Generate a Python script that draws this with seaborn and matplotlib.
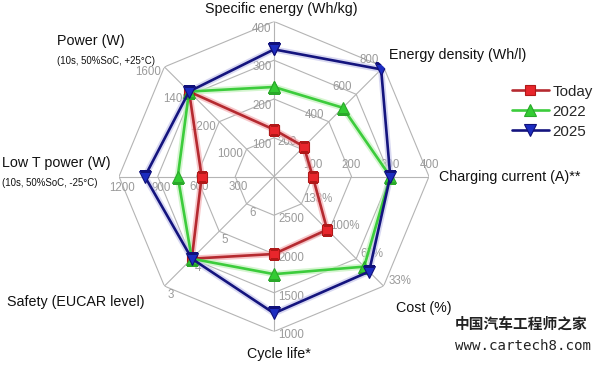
import numpy as np
import pandas as pd
import matplotlib
matplotlib.use("Agg")
import matplotlib.pyplot as plt
import seaborn as sns

sns.set_style("white")
plt.rcParams['font.family'] = ['Liberation Sans', 'Noto Sans CJK SC', 'DejaVu Sans']

# radar axes, clockwise from the top
categories = ["Specific energy", "Energy density", "Charging current", "Cost",
              "Cycle life", "Safety", "Low T power", "Power"]
# value at the centre and change per grid ring for each axis
axis_start = [0, 0, 0, 166.67, 3000, 7, 0, 800]
axis_step = [100, 200, 100, -33.33, -500, -1, 300, 200]
tick_labels = [
    ["100", "200", "300", "400"],
    ["200", "400", "600", "800"],
    ["100", "200", "300", "400"],
    ["133%", "100%", "67%", "33%"],
    ["2500", "2000", "1500", "1000"],
    ["6", "5", "4", "3"],
    ["300", "600", "900", "1200"],
    ["1000", "1200", "1400", "1600"],
]

series_names = ["Today", "2022", "2025"]
today = [121, 218, 100, 102, 2000, 4, 560, 1420]
y2022 = [231, 502, 300, 57, 1740, 4, 745, 1420]
y2025 = [328, 782, 300, 51, 1235, 4, 1000, 1420]

n = len(categories)
theta = np.pi / 2 - np.arange(n) * 2 * np.pi / n


def to_ring(values):
    return [(v - s) / st for v, s, st in zip(values, axis_start, axis_step)]


fig = plt.figure(figsize=(6, 3.66), dpi=100)
W, H = 600, 366
cx, cy, rad = 274, 176.5, 155
ax = fig.add_axes([(cx - rad) / W, (H - cy - rad) / H, 2 * rad / W, 2 * rad / H],
                  projection='polar')
ax.set_ylim(0, 4)
ax.set_xticks([])
ax.set_yticks([])
ax.grid(False)
ax.spines['polar'].set_visible(False)
ax.patch.set_visible(False)

# octagonal grid
grid_col = "#b4b4b4"
th_closed = np.append(theta, theta[0] - 2 * np.pi)
for ring in range(1, 5):
    ax.plot(th_closed, [ring] * (n + 1), color=grid_col, lw=0.8, zorder=1)
for t in theta:
    ax.plot([t, t], [0, 4], color=grid_col, lw=0.8, zorder=1)

# ring labels, offsets in pixels from each vertex
offsets = [(-12, -7), (-14, 7), (0, 11), (16, 5), (17, -4), (6, -9), (3, -11), (-16, -5)]
for i in range(n):
    dx, dy = offsets[i]
    for ring, lab in enumerate(tick_labels[i], start=1):
        ax.annotate(lab, (theta[i], ring), xytext=(dx, dy), textcoords='offset pixels',
                    ha='center', va='center', fontsize=8.3, color="#9a9a9a",
                    annotation_clip=False, zorder=2)

styles = [
    dict(color="#b52a30", marker="s", mfc="#e8262c", mec="#b01818", ms=7, glow="#f4b0b4"),
    dict(color="#3ccc3c", marker="^", mfc="#33cc33", mec="#2aa82a", ms=8.5, glow="#c4f2bc"),
    dict(color="#14147e", marker="v", mfc="#1c2cc0", mec="#10107a", ms=8.5, glow="#c8c8ec"),
]
for name, vals, st in zip(series_names, [today, y2022, y2025], styles):
    r = to_ring(vals)
    r_closed = r + [r[0]]
    # soft glow under the line
    sns.lineplot(x=th_closed, y=r_closed, ax=ax, sort=False, estimator=None, legend=False,
                 color=st["glow"], lw=4.5, alpha=0.7, zorder=2.5)
    sns.lineplot(x=th_closed, y=r_closed, ax=ax, sort=False, estimator=None, legend=False,
                 color=st["color"], lw=1.9, marker=st["marker"], markersize=st["ms"],
                 markerfacecolor=st["mfc"], markeredgecolor=st["mec"], markeredgewidth=0.8,
                 label=name, zorder=3)
ax.set_xlabel("")
ax.set_ylabel("")

# axis names
def ftext(x, y, s, **kw):
    fig.text(x / W, 1 - y / H, s, **kw)

lab_kw = dict(fontsize=10.3, color="#111111", va='center')
sub_kw = dict(fontsize=6.9, color="#111111", va='center')
ftext(281, 9, "Specific energy (Wh/kg)", ha='center', **lab_kw)
ftext(389, 55, "Energy density (Wh/l)", ha='left', **lab_kw)
ftext(439, 177, "Charging current (A)**", ha='left', **lab_kw)
ftext(396, 308, "Cost (%)", ha='left', **lab_kw)
ftext(279, 354, "Cycle life*", ha='center', **lab_kw)
ftext(7, 302, "Safety (EUCAR level)", ha='left', **lab_kw)
ftext(2, 163, "Low T power (W)", ha='left', **lab_kw)
ftext(2, 183, "(10s, 50%SoC, -25°C)", ha='left', **sub_kw)
ftext(57, 41, "Power (W)", ha='left', **lab_kw)
ftext(57, 61, "(10s, 50%SoC, +25°C)", ha='left', **sub_kw)

handles, labels = ax.get_legend_handles_labels()
fig.legend(handles[-3:], labels[-3:], loc='upper left', bbox_to_anchor=(510 / W, 1 - 83 / H),
           frameon=False, fontsize=10.9, handlelength=2.5, handletextpad=0.2,
           labelspacing=0.4, borderpad=0.1, borderaxespad=0)

# watermark
ftext(455, 329, "中国汽车工程师之家", ha='left', fontsize=10.6, color="#222222",
      family=['Noto Sans CJK SC', 'DejaVu Sans'], fontweight='bold')
ftext(455, 350, "www.cartech8.com", ha='left', fontsize=10.2, color="#222222",
      family=['DejaVu Sans Mono'])

fig.savefig("out.png", dpi=100)
